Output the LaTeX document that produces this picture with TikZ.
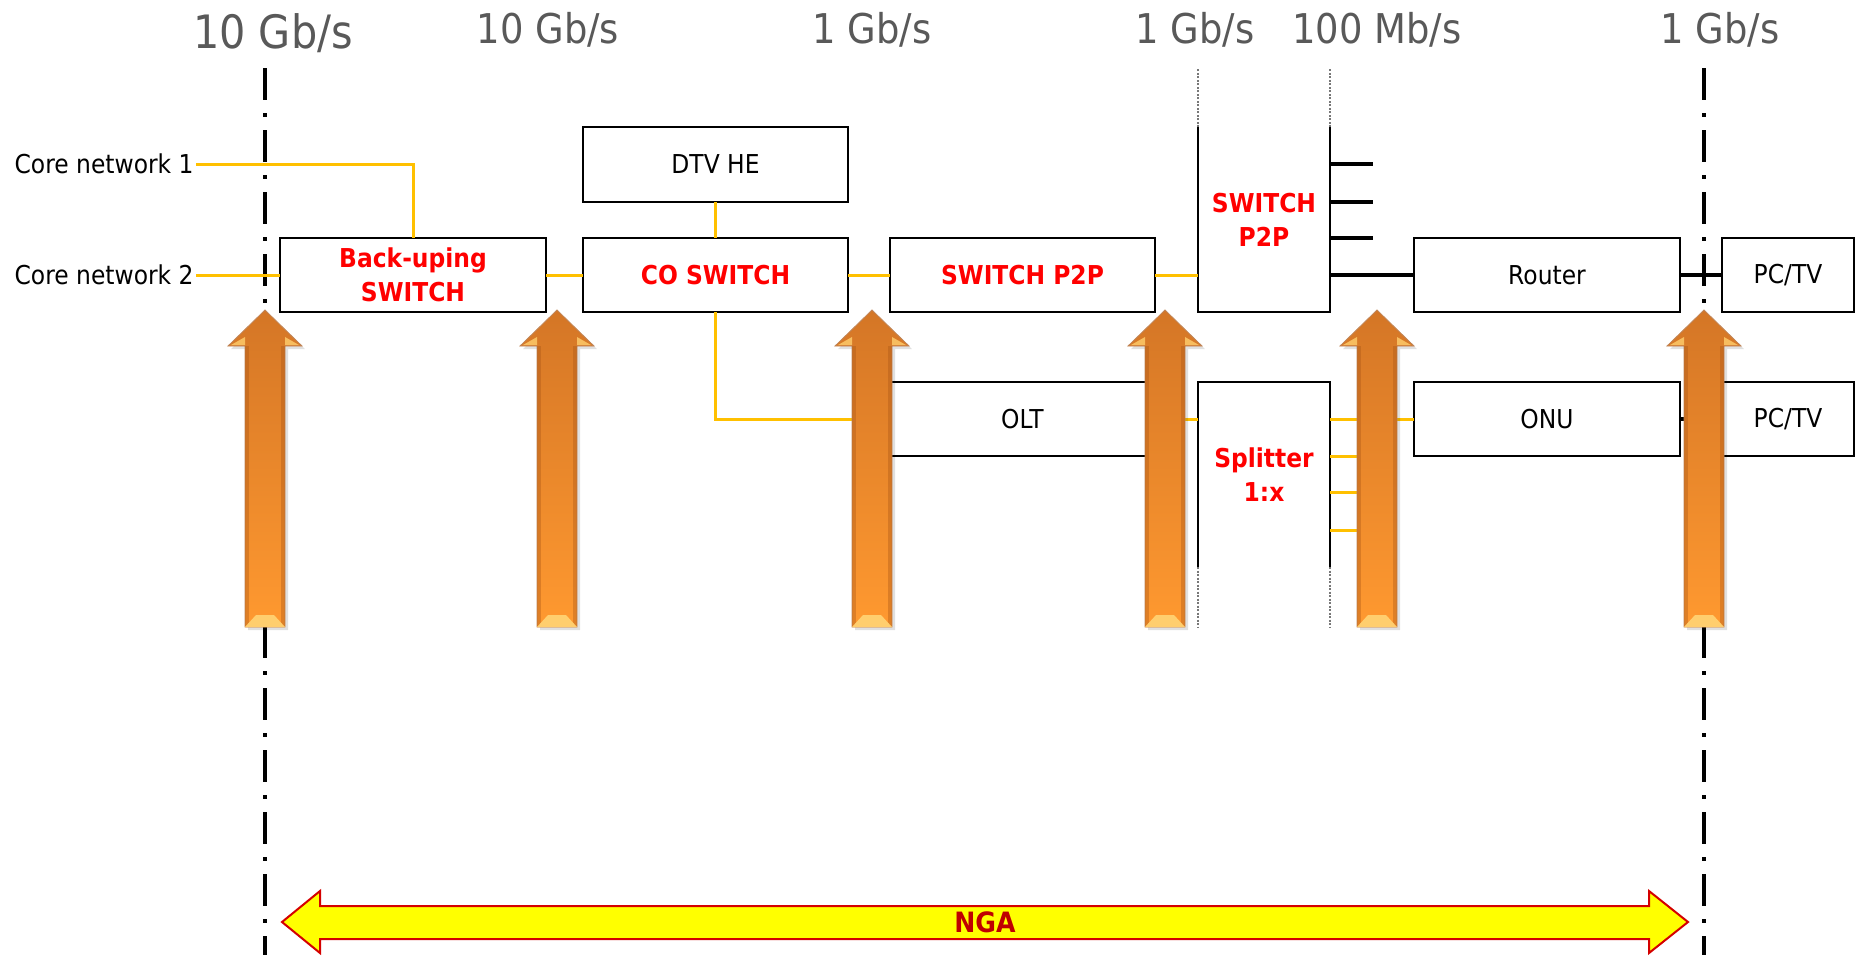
\documentclass[tikz,border=0pt]{standalone}
\usepackage{fontspec}
\setmainfont{DejaVu Sans}[FakeStretch=0.9]
\usetikzlibrary{calc}
\definecolor{lblgray}{RGB}{89,89,89}
\definecolor{conyel}{RGB}{255,192,0}
\definecolor{txtred}{RGB}{255,0,0}
\definecolor{ngared}{RGB}{192,0,0}
\definecolor{ngaline}{RGB}{212,0,0}
\definecolor{ngafill}{RGB}{255,255,0}
\definecolor{arrtop}{RGB}{212,118,38}
\definecolor{arrbot}{RGB}{255,153,48}
\definecolor{arredge}{RGB}{165,82,20}
\definecolor{arrlight}{RGB}{255,206,110}
\definecolor{dotgray}{RGB}{120,120,120}

\newcommand{\orarrow}[1]{%
  \fill[black, opacity=0.12] ({#1-34},349) -- ({#1+3},313) -- ({#1+40},349) -- ({#1+23},349) -- ({#1+23},630) -- ({#1-17},630) -- ({#1-17},349) -- cycle;
  \shadedraw[top color=arrtop, bottom color=arrbot, draw=arredge!70, line width=0.4pt]
    ({#1-37},346) -- (#1,310) -- ({#1+37},346) -- ({#1+20},346) -- ({#1+20},627) -- ({#1-20},627) -- ({#1-20},346) -- cycle;
  \fill[arredge, opacity=0.35] ({#1-20},346) rectangle ({#1-16},627);
  \fill[arredge, opacity=0.35] ({#1+16},346) rectangle ({#1+20},627);
  \fill[arrlight] ({#1-20},627) -- ({#1-9},615) -- ({#1+9},615) -- ({#1+20},627) -- cycle;
  \fill[arrlight, opacity=0.8] ({#1-34},345) -- ({#1-20},337) -- ({#1-20},345) -- cycle;
  \fill[arrlight, opacity=0.8] ({#1+34},345) -- ({#1+20},337) -- ({#1+20},345) -- cycle;
}

\begin{document}
\begin{tikzpicture}[x=0.5pt,y=-0.5pt,
  boxline/.style={draw=black, line width=1.2pt, line join=miter},
  box/.style={draw=black, line width=1.2pt, inner sep=0pt, outer sep=0pt,
    minimum height=37pt, align=center, font=\fontsize{13pt}{17pt}\selectfont},
  redbox/.style={box, text=txtred, font=\fontsize{13pt}{17pt}\selectfont\bfseries},
  redtxt/.style={text=txtred, inner sep=0pt, outer sep=0pt, align=center,
    font=\fontsize{13pt}{17pt}\selectfont\bfseries},
  plain/.style={inner sep=1pt, font=\fontsize{13pt}{16pt}\selectfont},
  rate/.style={text=lblgray, anchor=base, inner sep=0pt, font=\fontsize{20.5pt}{24pt}\selectfont},
  yl/.style={draw=conyel, line width=1.5pt},
  bstub/.style={draw=black, line width=2pt},
  dashdot/.style={draw=black, line width=1.75pt, dash pattern=on 16pt off 6.5pt on 2pt off 6.5pt},
  thindot/.style={draw=dotgray, line width=0.75pt, dash pattern=on 1pt off 0.75pt},
]
\useasboundingbox (0,0) rectangle (1858,955);
\fill[white] (0,0) rectangle (1858,955);

% rate labels
\node[rate, font=\fontsize{23pt}{26pt}\selectfont] (r1) at (273,48) {10 Gb/s};
\node[rate] (r2) at (548,43) {10 Gb/s};
\node[rate] (r3) at (872,43) {1 Gb/s};
\node[rate] (r4) at (1195,43) {1 Gb/s};
\node[rate] (r5) at (1377,43) {100 Mb/s};
\node[rate] (r6) at (1720,43) {1 Gb/s};

% dash-dot boundary lines
\coordinate (dl1t) at (265,68);
\coordinate (dl1b) at (265,955);
\coordinate (dl2t) at (1704,68);
\coordinate (dl2b) at (1704,955);
\draw[dashdot] (dl1t) -- (dl1b);
\draw[dashdot] (dl2t) -- (dl2b);

% core network labels
\node[plain, anchor=east] (cn1) at (196,164) {Core network 1};
\node[plain, anchor=east] (cn2) at (196,275) {Core network 2};

% boxes
\node[redbox, minimum width=133pt] (bk) at (413,275) {Back-uping\\SWITCH};
\node[redbox, minimum width=132.5pt] (co) at (715.5,275) {CO SWITCH};
\node[box, minimum width=132.5pt, minimum height=37.5pt] (dtv) at (715.5,164.5) {DTV HE};
\node[redbox, minimum width=132.5pt] (sp) at (1022.5,275) {SWITCH P2P};
\node[box, minimum width=133pt] (router) at (1547,275) {Router};
\node[box, minimum width=66pt] (pc1) at (1788,275) {PC/TV};
\node[box, minimum width=132.5pt] (olt) at (1022.5,419) {OLT};
\node[box, minimum width=133pt] (onu) at (1547,419) {ONU};
\node[box, minimum width=66pt] (pc2) at (1788,419) {PC/TV};

% open boxes
\node[redtxt, minimum width=66pt, minimum height=92.5pt] (tsw) at (1264,219.5) {SWITCH\\P2P};
\draw[boxline] (tsw.north west) -- (tsw.south west) -- (tsw.south east) -- (tsw.north east);
\node[redtxt, minimum width=66pt, minimum height=92.5pt] (spl) at (1264,474.5) {Splitter\\1:x};
\draw[boxline] (spl.south west) -- (spl.north west) -- (spl.north east) -- (spl.south east);

% thin dotted extensions
\draw[thindot] (tsw.north west) -- ++(0,-59);
\draw[thindot] (tsw.north east) -- ++(0,-59);
\draw[thindot] (spl.south west) -- ++(0,60);
\draw[thindot] (spl.south east) -- ++(0,60);

% yellow connectors
\draw[yl] (cn1.east) -| (bk.north);
\draw[yl] (cn2.east) -- (bk.west);
\draw[yl] (bk.east) -- (co.west);
\draw[yl] (dtv.south) -- (co.north);
\draw[yl] (co.east) -- (sp.west);
\draw[yl] (sp.east) -- (sp.east -| tsw.west);
\draw[yl] (co.south) |- (olt.west);
\draw[yl] (olt.east) -- (olt.east -| spl.west);
\draw[yl] (spl.east |- onu.west) -- (onu.west);
\foreach \yy in {456,492,530} \draw[yl] (spl.east |- 0,\yy) -- ++(40,0);

% black connectors
\foreach \yy in {164,202,238} \draw[bstub] (tsw.east |- 0,\yy) -- ++(43,0);
\draw[bstub] (tsw.east |- router.west) -- (router.west);
\draw[bstub] (router.east) -- (pc1.west);
\draw[bstub] (onu.east) -- (pc2.west);

% orange arrows
\orarrow{265}
\orarrow{557}
\orarrow{872}
\orarrow{1165}
\orarrow{1377}
\orarrow{1704}

% NGA double arrow
\filldraw[fill=ngafill, draw=ngaline, line width=1pt, line join=miter]
  (282,922) -- (320,891) -- (320,906) -- (1649,906) -- (1649,891) -- (1688,922)
  -- (1649,953) -- (1649,939) -- (320,939) -- (320,953) -- cycle;
\node[text=ngared, font=\fontsize{14pt}{16pt}\selectfont\bfseries] (nga) at (985,922) {NGA};
\end{tikzpicture}
\end{document}
